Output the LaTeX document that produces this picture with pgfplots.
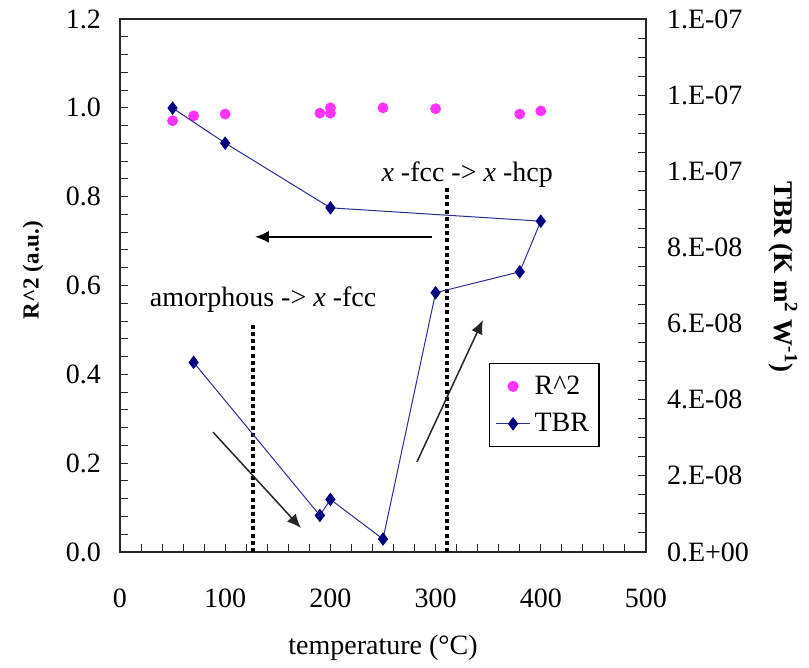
\documentclass[border=0pt]{standalone}
\usepackage{fontspec}
\setmainfont{Liberation Serif}
\usepackage{pgfplots}
\pgfplotsset{compat=1.18}
\usetikzlibrary{arrows.meta}
\definecolor{rmag}{RGB}{255,51,255}
\definecolor{tbrnavy}{RGB}{0,0,128}
\definecolor{tbrline}{RGB}{45,45,150}
\newcommand{\fs}{\fontsize{14}{16}\selectfont}
\begin{document}
\begin{tikzpicture}
\path[use as bounding box] (-60pt,-58pt) rectangle (344.5pt,276pt);
\begin{axis}[
  at={(0,0)}, anchor=south west,
  scale only axis, width=263pt, height=266.5pt,
  xmin=0, xmax=500, ymin=0, ymax=1.2,
  xtick={0,100,200,300,400,500}, xticklabels={0,100,200,300,400,500},
  ytick={0,0.2,0.4,0.6,0.8,1.0,1.2}, yticklabels={0.0,0.2,0.4,0.6,0.8,1.0,1.2},
  minor x tick num=4, minor y tick num=4,
  tick align=inside, xtick pos=bottom, ytick pos=left,
  major tick length=4pt, minor tick length=4pt,
  axis line style={line width=0.6pt, black!85},
  tick style={line width=0.5pt, black!85},
  tick label style={font=\fs},
  yticklabel style={xshift=-6pt},
  xticklabel style={yshift=-15pt},
  xlabel={temperature (°C)},
  xlabel style={at={(axis description cs:0.5,-0.18)}, anchor=center, font=\fs},
  ylabel={\textbf{R\textasciicircum 2 (a.u.)}},
  ylabel style={at={(axis description cs:-0.165,0.529)}, anchor=center, font=\fontsize{11.5}{13}\selectfont},
  clip=false,
]
\addplot[only marks, mark=*, mark size=2.5pt, color=rmag] coordinates {
  (50,0.971) (70,0.982) (100,0.986) (190,0.988) (200,0.988) (200,1.0)
  (250,1.0) (300,0.998) (380,0.986) (400,0.993)
};
% annotations
\draw[line width=2pt, dash pattern=on 2pt off 1.6pt] (axis cs:126.7,0) -- (axis cs:126.7,0.511);
\draw[line width=2pt, dash pattern=on 2pt off 1.6pt] (axis cs:311,0) -- (axis cs:311,0.819);
\node[font=\fs] at (axis cs:136,0.568) {amorphous -> \textit{x} -fcc};
\node[font=\fs] at (axis cs:330,0.849) {\textit{x} -fcc -> \textit{x} -hcp};
\draw[line width=0.75pt, -{Latex[length=7pt,width=6pt]}] (axis cs:296.6,0.7095) -- (axis cs:128.3,0.7095);
\draw[line width=0.75pt, black!85, -{Latex[length=7pt,width=6pt]}] (axis cs:88.4,0.270) -- (axis cs:172,0.054);
\draw[line width=0.75pt, black!85, -{Latex[length=7pt,width=6pt]}] (axis cs:282.3,0.203) -- (axis cs:345,0.5225);
\end{axis}
\begin{axis}[
  at={(0,0)}, anchor=south west,
  scale only axis, width=263pt, height=266.5pt,
  xmin=0, xmax=500, ymin=0, ymax=1.4e-7,
  axis y line*=right, axis x line=none,
  ytick={0,2e-8,4e-8,6e-8,8e-8,1e-7,1.2e-7,1.4e-7},
  yticklabels={0.E+00,2.E-08,4.E-08,6.E-08,8.E-08,1.E-07,1.E-07,1.E-07},
  scaled y ticks=false,
  minor y tick num=3,
  tick align=inside,
  major tick length=4pt, minor tick length=4pt,
  axis line style={line width=0.6pt, black!85},
  tick style={line width=0.5pt, black!85},
  tick label style={font=\fs},
  yticklabel style={xshift=7pt},
  ylabel={\textbf{TBR (K m\textsuperscript{2} W\textsuperscript{-1})}},
  ylabel style={at={(axis description cs:1.2605,0.516)}, anchor=center, rotate=180, font=\fontsize{13.5}{15}\selectfont},
  legend image code/.code={\draw[mark repeat=2,mark phase=2,#1] plot coordinates {(0pt,0pt) (8.5pt,0pt) (17pt,0pt)};},
  legend style={at={(axis description cs:0.7015,0.3546)}, anchor=north west, draw=black, line width=0.6pt, font=\fs, inner xsep=3pt, inner ysep=4pt, row sep=4pt, legend cell align=left},
  clip=false,
]
\addlegendimage{only marks, mark=*, mark size=2.5pt, color=rmag}
\addlegendentry{R\textasciicircum 2}
\addplot[color=tbrline, line width=0.5pt, mark=diamond*, mark size=3pt, mark options={fill=tbrnavy, draw=tbrnavy}] coordinates {
  (70,4.98e-8) (190,9.6e-9) (200,1.38e-8) (250,3.4e-9) (300,6.81e-8)
  (380,7.36e-8) (400,8.69e-8) (200,9.04e-8) (100,1.074e-7) (50,1.166e-7)
};
\addlegendentry{TBR}
\end{axis}
\end{tikzpicture}
\end{document}
